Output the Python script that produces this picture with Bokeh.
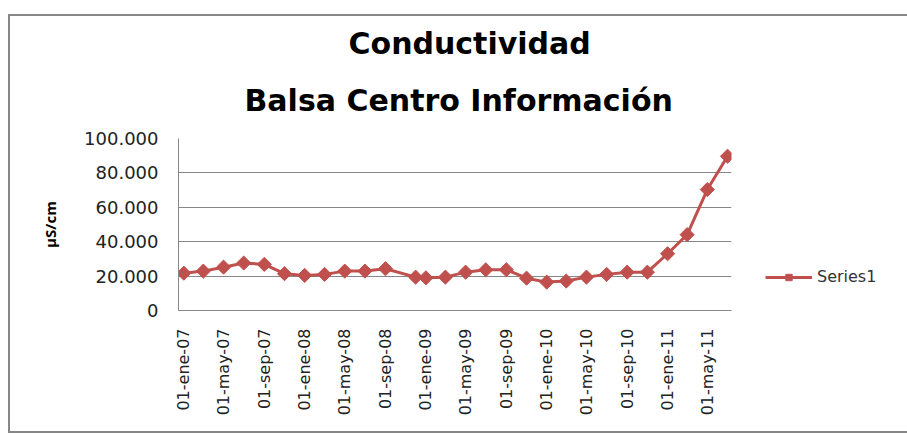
import math
import pandas as pd
from bokeh.plotting import figure
from bokeh.models import FixedTicker, Legend, LegendItem, Range1d, Title
from bokeh.embed import file_html
from bokeh.resources import INLINE

title_lines = ["Conductividad", "Balsa Centro Información"]
y_axis_title = "µS/cm"
series_name = "Series1"

dates = ["2007-01-01", "2007-03-01", "2007-05-01", "2007-07-01", "2007-09-01", "2007-11-01",
         "2008-01-01", "2008-03-01", "2008-05-01", "2008-07-01", "2008-09-01", "2008-12-01",
         "2009-01-01", "2009-03-01", "2009-05-01", "2009-07-01", "2009-09-01", "2009-11-01",
         "2010-01-01", "2010-03-01", "2010-05-01", "2010-07-01", "2010-09-01", "2010-11-01",
         "2011-01-01", "2011-03-01", "2011-05-01", "2011-07-01"]
conductivity = [21700, 22900, 25200, 27600, 26800, 21400,
                20400, 21000, 22900, 22900, 24300, 19400,
                19000, 19400, 22300, 23700, 23700, 18800,
                16500, 17100, 19400, 21000, 22300, 22300,
                33000, 44100, 70300, 89700]

x_tick_dates = ["2007-01-01", "2007-05-01", "2007-09-01", "2008-01-01", "2008-05-01", "2008-09-01",
                "2009-01-01", "2009-05-01", "2009-09-01", "2010-01-01", "2010-05-01", "2010-09-01",
                "2011-01-01", "2011-05-01"]
x_tick_labels = ["01-ene-07", "01-may-07", "01-sep-07", "01-ene-08", "01-may-08", "01-sep-08",
                 "01-ene-09", "01-may-09", "01-sep-09", "01-ene-10", "01-may-10", "01-sep-10",
                 "01-ene-11", "01-may-11"]
y_ticks = [0, 20000, 40000, 60000, 80000, 100000]
y_tick_labels = ["0", "20.000", "40.000", "60.000", "80.000", "100.000"]

RED = "#C0504D"
GRID = "#878787"
FONT = "DejaVu Sans"

x = pd.to_datetime(dates)
x_ticks_ms = [float(v) for v in (pd.to_datetime(x_tick_dates).astype("int64") // 10**6)]

p = figure(x_axis_type="datetime", output_backend="svg", toolbar_location=None,
           frame_width=553, frame_height=172,
           min_border_left=168, min_border_right=173, min_border_top=122, min_border_bottom=121,
           x_range=Range1d(pd.Timestamp("2006-12-16"), pd.Timestamp("2011-07-13")),
           y_range=Range1d(0, 100000))
p.margin = (14, 0, 0, 8)
p.styles = {"border": "2px solid #878787", "box-sizing": "content-box"}
p.outline_line_color = None
p.background_fill_color = "white"
p.border_fill_color = "white"

line_r = p.line(x, conductivity, line_color=RED, line_width=3)
pt_r = p.scatter(x, conductivity, marker="square", angle=math.pi / 4, size=10,
                 fill_color=RED, line_color=RED)

p.xgrid.grid_line_color = None
p.ygrid.grid_line_color = GRID
p.ygrid.grid_line_width = 1

p.yaxis.ticker = FixedTicker(ticks=y_ticks)
p.yaxis.major_label_overrides = {float(t): l for t, l in zip(y_ticks, y_tick_labels)}
p.xaxis.ticker = FixedTicker(ticks=x_ticks_ms)
p.xaxis.major_label_overrides = {t: l for t, l in zip(x_ticks_ms, x_tick_labels)}
p.xaxis.major_label_orientation = math.pi / 2

for ax in (p.xaxis, p.yaxis):
    ax.axis_line_color = GRID
    ax.axis_line_width = 1
    ax.major_tick_line_color = None
    ax.minor_tick_line_color = None
    ax.major_tick_out = 0
    ax.major_tick_in = 0
    ax.major_label_text_font = FONT
    ax.major_label_text_color = "#222222"
p.yaxis.major_label_text_font_size = "18px"
p.yaxis.major_label_standoff = 20
p.xaxis.major_label_text_font_size = "16px"
p.xaxis.major_label_standoff = 18

p.yaxis.axis_label = y_axis_title
p.yaxis.axis_label_text_font = "Open Sans"
p.yaxis.axis_label_text_font_size = "15px"
p.yaxis.axis_label_text_font_style = "bold"
p.yaxis.axis_label_text_color = "black"
p.yaxis.axis_label_standoff = 21

# inner (closest to plot) first
p.add_layout(Title(text=title_lines[1], align="left", offset=66, standoff=41,
                   text_font=FONT, text_font_size="30px", text_font_style="bold",
                   text_color="black"), "above")
p.add_layout(Title(text=title_lines[0], align="left", offset=170, standoff=0,
                   text_font=FONT, text_font_size="30px", text_font_style="bold",
                   text_color="black"), "above")

legend = Legend(items=[LegendItem(label=series_name, renderers=[line_r, pt_r])],
                location=(34, 24), padding=0, margin=0, spacing=0,
                glyph_width=47, glyph_height=16, label_standoff=5,
                border_line_color=None, background_fill_alpha=0,
                label_text_font=FONT, label_text_font_size="16px", label_text_color="#333333")
p.add_layout(legend, "right")

open("out.html", "w").write(file_html(p, INLINE))
